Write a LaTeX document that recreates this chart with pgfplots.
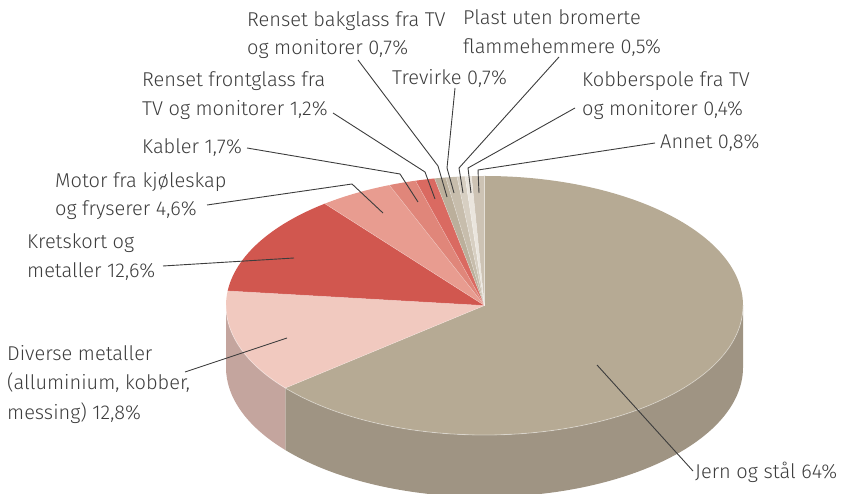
\documentclass[border=0pt]{standalone}
\usepackage{fontspec}
\setmainfont{Fira Sans Light}
\usepackage{pgfplots}
\pgfplotsset{compat=1.18}

\definecolor{c0}{HTML}{B6AA94}
\definecolor{c1}{HTML}{F1C9BF}
\definecolor{c2}{HTML}{D1574F}
\definecolor{c3}{HTML}{E89C90}
\definecolor{c4}{HTML}{E0867A}
\definecolor{c5}{HTML}{DA6A61}
\definecolor{c6}{HTML}{BBAF9B}
\definecolor{c7}{HTML}{C7BDAC}
\definecolor{c8}{HTML}{D7CFC2}
\definecolor{c9}{HTML}{EAE5DD}
\definecolor{c10}{HTML}{CDC3B4}
\definecolor{s0}{HTML}{9F9483}
\definecolor{s1}{HTML}{C4A59E}
\definecolor{txt}{HTML}{3D3D3D}

\begin{document}
\begin{tikzpicture}
% cumulative angles (clockwise from the top) from the shares
\gdef\cum{90}
\foreach \p [count=\i from 0] in {64,12.8,12.6,4.6,1.7,1.2,0.7,0.7,0.5,0.4,0.8} {
  \pgfmathsetmacro\s{\cum}
  \pgfmathsetmacro\e{\cum-3.6*\p}
  \expandafter\xdef\csname sa\i\endcsname{\s}
  \expandafter\xdef\csname ea\i\endcsname{\e}
  \xdef\cum{\e}
}
\begin{axis}[width=842bp, height=494bp, scale only axis,
  xmin=0, xmax=842, ymin=0, ymax=494, hide axis, clip=true]
\coordinate (C) at (axis cs:484.5,188.5);
% sides
\fill[s0] ([shift={(0:258.5bp and 129.5bp)}]C) arc[start angle=0, end angle=\csname ea0\endcsname, x radius=258.5bp, y radius=129.5bp]
  -- ++(0,-62bp) arc[start angle=\csname ea0\endcsname, end angle=0, x radius=258.5bp, y radius=129.5bp] -- cycle;
\fill[s1] ([shift={(\csname ea0\endcsname:258.5bp and 129.5bp)}]C) arc[start angle=\csname ea0\endcsname, end angle=-180, x radius=258.5bp, y radius=129.5bp]
  -- ++(0,-62bp) arc[start angle=-180, end angle=\csname ea0\endcsname, x radius=258.5bp, y radius=129.5bp] -- cycle;
% top faces
\pgfplotsinvokeforeach{0,...,10}{
  \fill[fill=c#1] (C) -- ([shift={(\csname sa#1\endcsname:258.5bp and 129.5bp)}]C)
    arc[start angle=\csname sa#1\endcsname, end angle=\csname ea#1\endcsname, x radius=258.5bp, y radius=129.5bp] -- cycle;
}
\pgfplotsinvokeforeach{0,...,10}{
  \draw[white, draw opacity=0.35, line width=0.5bp] (C) -- ([shift={(\csname sa#1\endcsname:258.5bp and 129.5bp)}]C);
}
\draw[white, draw opacity=0.4, line width=0.8bp] ([shift={(0:258.5bp and 129.5bp)}]C) arc[start angle=0, end angle=-180, x radius=258.5bp, y radius=129.5bp];
% leader lines
\begin{scope}[draw=txt, line width=0.9bp]
\draw (axis cs:597,129) -- (axis cs:693,23);
\draw (axis cs:185,122) -- (axis cs:287,156);
\draw (axis cs:163,228) -- (axis cs:294,236);
\draw (axis cs:207,289) -- (axis cs:352,310) -- (axis cs:383,281);
\draw (axis cs:247,346) -- (axis cs:400,320) -- (axis cs:418,292);
\draw (axis cs:333,381) -- (axis cs:425,322) -- (axis cs:435,295);
\draw (axis cs:358,434) -- (axis cs:438,328) -- (axis cs:447,297);
\draw (axis cs:455,406) -- (axis cs:447,326) -- (axis cs:454,301);
\draw (axis cs:559,437) -- (axis cs:459,326) -- (axis cs:463,301);
\draw (axis cs:575,386) -- (axis cs:468,326) -- (axis cs:471,301);
\draw (axis cs:655,351) -- (axis cs:478,324) -- (axis cs:479,301);
\end{scope}
% labels
\begin{scope}[every node/.style={anchor=base west, inner sep=0pt, text=txt, font=\fontsize{20bp}{24bp}\selectfont}]
\node at (axis cs:247,467) {Renset bakglass fra TV};
\node at (axis cs:247,439) {og monitorer 0,7\%};
\node at (axis cs:463,469) {Plast uten bromerte};
\node at (axis cs:463,440) {flammehemmere 0,5\%};
\node at (axis cs:392,409) {Trevirke 0,7\%};
\node at (axis cs:142,407) {Renset frontglass fra};
\node at (axis cs:142,378) {TV og monitorer 1,2\%};
\node at (axis cs:582,407) {Kobberspole fra TV};
\node at (axis cs:582,378) {og monitorer 0,4\%};
\node at (axis cs:142,340) {Kabler 1,7\%};
\node at (axis cs:660,345) {Annet 0,8\%};
\node at (axis cs:55,306) {Motor fra kjøleskap};
\node at (axis cs:55,278) {og fryserer 4,6\%};
\node at (axis cs:27,245) {Kretskort og};
\node at (axis cs:27,216) {metaller 12,6\%};
\node at (axis cs:7,133) {Diverse metaller};
\node at (axis cs:7,104) {(alluminium, kobber,};
\node at (axis cs:7,74) {messing) 12,8\%};
\node at (axis cs:695,16) {Jern og stål 64\%};
\end{scope}
\end{axis}
\pgfresetboundingbox
\path (current axis.south west) rectangle (current axis.north east);
\end{tikzpicture}
\end{document}
